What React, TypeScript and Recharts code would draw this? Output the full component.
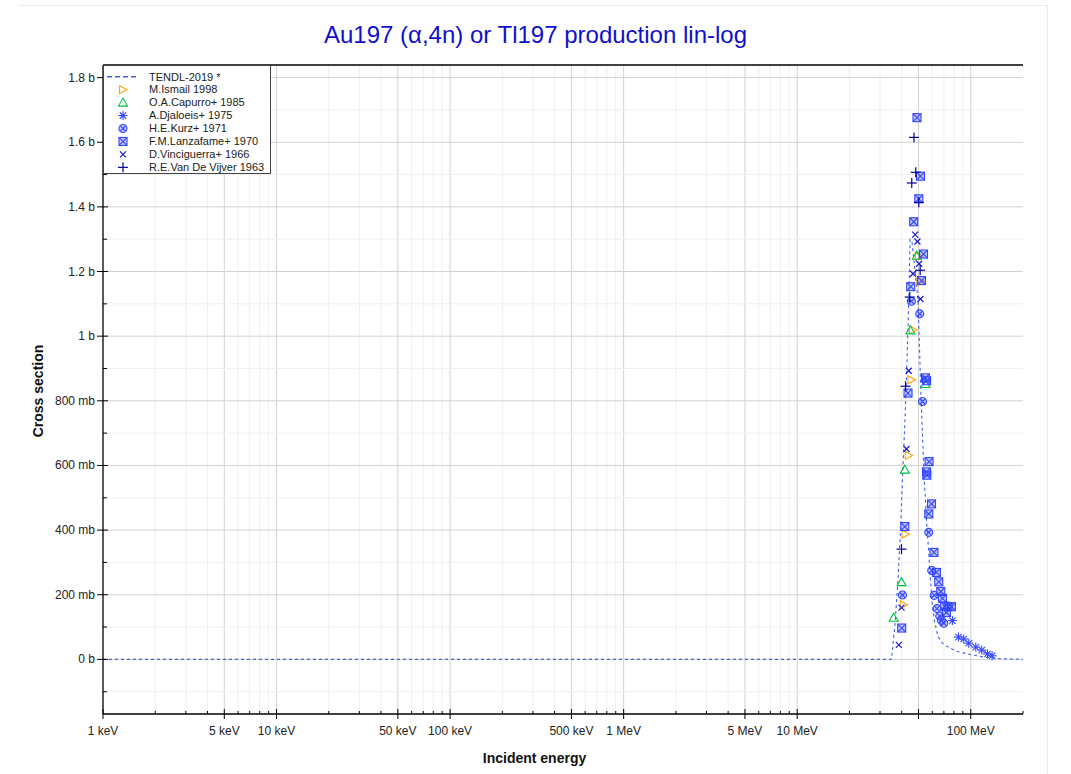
import React from 'react';
import { ComposedChart, Line, Scatter, XAxis, YAxis, ReferenceLine } from 'recharts';

// ---------- data (energy in MeV, cross section in barns) ----------
const TENDL_E = [0.001, 34.9, 36.5, 38.1, 39.4, 40.4, 41.7, 43.0, 44.1, 44.7, 45.9, 49.7, 51.5, 53.8, 55.6, 57.3, 58.5, 60.0, 62.0, 64.8, 70.0, 76.0, 83.0, 99.0, 123.0, 150.0, 200.0];
const TENDL_S = [0, 0, 0.10, 0.246, 0.40, 0.556, 0.732, 0.94, 1.144, 1.299, 1.289, 1.113, 0.834, 0.57, 0.43, 0.33, 0.25, 0.17, 0.115, 0.07, 0.045, 0.035, 0.025, 0.015, 0.006, 0.002, 0];

const ISMAIL_E = [50.2, 51.3, 46.5, 45.5, 43.9, 42.1, 41.1];
const ISMAIL_S = [1.247, 1.170, 1.020, 0.865, 0.631, 0.388, 0.169];

const CAPURRO_E = [48.9, 44.9, 54.8, 41.7, 39.9, 36.0];
const CAPURRO_S = [1.249, 1.018, 0.852, 0.587, 0.239, 0.129];

const DJALOEIS_E = [78.4, 84.9, 91.1, 97.4, 106.9, 115.7, 124.8, 132.7];
const DJALOEIS_S = [0.120, 0.069, 0.063, 0.050, 0.038, 0.029, 0.017, 0.011];

const KURZ_E = [45.5, 50.8, 52.7, 57.3, 59.6, 40.4, 61.6, 63.9, 66.3, 67.8, 69.9];
const KURZ_S = [1.108, 1.069, 0.798, 0.393, 0.275, 0.199, 0.198, 0.157, 0.134, 0.121, 0.112];

const LANZAFAME_E = [49.0, 51.3, 50.2, 46.9, 53.4, 52.0, 45.1, 54.8, 55.6, 43.5, 57.5, 55.6, 55.8, 59.4, 57.3, 41.7, 61.4, 63.4, 65.4, 67.2, 68.7, 70.8, 74.0, 77.4, 72.4, 40.0];
const LANZAFAME_S = [1.676, 1.495, 1.425, 1.354, 1.254, 1.172, 1.153, 0.871, 0.862, 0.824, 0.612, 0.580, 0.570, 0.481, 0.450, 0.411, 0.331, 0.269, 0.240, 0.210, 0.189, 0.165, 0.163, 0.163, 0.145, 0.097];

const VINCI_E = [47.8, 49.3, 50.4, 46.5, 51.3, 43.9, 42.6, 39.9, 38.5];
const VINCI_S = [1.314, 1.293, 1.224, 1.193, 1.115, 0.893, 0.651, 0.160, 0.045];

const VDV_E = [47.1, 48.2, 45.7, 50.2, 51.1, 44.5, 42.1, 39.9];
const VDV_S = [1.615, 1.507, 1.474, 1.414, 1.204, 1.121, 0.845, 0.341];

// ---------- axes ----------
const X_MIN = 0.001;
const X_MAX = 200;
const X_MAJOR = [0.001, 0.005, 0.01, 0.05, 0.1, 0.5, 1, 5, 10, 50, 100];
const X_LABELS = ['1 keV', '5 keV', '10 keV', '50 keV', '100 keV', '500 keV', '1 MeV', '5 MeV', '10 MeV', '', '100 MeV'];
const X_DECADES = [0.001, 0.01, 0.1, 1, 10, 100];
const X_MINOR_MULT = [2, 3, 4, 6, 7, 8, 9];

const Y_MIN = -0.169;
const Y_MAX = 1.839;
const Y_MAJOR = [0, 0.2, 0.4, 0.6, 0.8, 1.0, 1.2, 1.4, 1.6, 1.8];
const Y_LABELS = ['0 b', '200 mb', '400 mb', '600 mb', '800 mb', '1 b', '1.2 b', '1.4 b', '1.6 b', '1.8 b'];
const Y_MINOR = [-0.1, 0.1, 0.3, 0.5, 0.7, 0.9, 1.1, 1.3, 1.5, 1.7];

const LEGEND_NAMES = ['TENDL-2019 *', 'M.Ismail 1998', 'O.A.Capurro+ 1985', 'A.Djaloeis+ 1975', 'H.E.Kurz+ 1971', 'F.M.Lanzafame+ 1970', 'D.Vinciguerra+ 1966', 'R.E.Van De Vijver 1963'];

// ---------- helpers ----------
const zip = (e: number[], s: number[]) => e.map((v, i) => ({ e: v, s: s[i] }));
const X_MINOR: number[] = [];
X_DECADES.forEach((d) => X_MINOR_MULT.forEach((m) => { const v = +(d * m).toPrecision(6); if (v <= X_MAX) X_MINOR.push(v); }));
const ALL_X = [...X_MAJOR, ...X_MINOR].sort((a, b) => a - b);
const ALL_Y = [...Y_MAJOR, ...Y_MINOR].sort((a, b) => a - b);
const near = (a: number, b: number) => Math.abs(a - b) <= Math.abs(b) * 1e-6 + 1e-9;
const xMajorIdx = (v: number) => X_MAJOR.findIndex((m) => near(v, m));
const yMajorIdx = (v: number) => Y_MAJOR.findIndex((m) => near(v, m));

const FONT = '"Liberation Sans", Arial, Helvetica, sans-serif';

const C_TENDL = '#3f62e6';
const C_ISMAIL = '#ffa500';
const C_CAPURRO = '#00c040';
const C_BLUE = '#3344ff';
const C_VINCI = '#1a1acc';
const C_VDV = '#000099';

type Kind = 'triR' | 'triU' | 'ast' | 'circX' | 'sqX' | 'x' | 'plus';

function Marker({ kind, cx, cy }: { kind: Kind; cx: number; cy: number }) {
  switch (kind) {
    case 'triR':
      return <polygon points={`${cx - 3.5},${cy - 4} ${cx + 4},${cy} ${cx - 3.5},${cy + 4}`} fill="none" stroke={C_ISMAIL} strokeWidth={1.1} />;
    case 'triU':
      return <polygon points={`${cx},${cy - 4.5} ${cx + 4.5},${cy + 3.5} ${cx - 4.5},${cy + 3.5}`} fill="none" stroke={C_CAPURRO} strokeWidth={1.1} />;
    case 'ast': {
      const r = 4.5, d = 3.2;
      return (
        <g stroke={C_BLUE} strokeWidth={1.1}>
          <line x1={cx - r} y1={cy} x2={cx + r} y2={cy} />
          <line x1={cx} y1={cy - r} x2={cx} y2={cy + r} />
          <line x1={cx - d} y1={cy - d} x2={cx + d} y2={cy + d} />
          <line x1={cx - d} y1={cy + d} x2={cx + d} y2={cy - d} />
        </g>
      );
    }
    case 'circX': {
      const r = 4, d = 2.8;
      return (
        <g stroke={C_BLUE} strokeWidth={1.1}>
          <circle cx={cx} cy={cy} r={r} fill={C_BLUE} fillOpacity={0.3} />
          <line x1={cx - d} y1={cy - d} x2={cx + d} y2={cy + d} />
          <line x1={cx - d} y1={cy + d} x2={cx + d} y2={cy - d} />
        </g>
      );
    }
    case 'sqX': {
      const r = 4;
      return (
        <g stroke={C_BLUE} strokeWidth={1.1}>
          <rect x={cx - r} y={cy - r} width={2 * r} height={2 * r} fill={C_BLUE} fillOpacity={0.3} />
          <line x1={cx - r} y1={cy - r} x2={cx + r} y2={cy + r} />
          <line x1={cx - r} y1={cy + r} x2={cx + r} y2={cy - r} />
        </g>
      );
    }
    case 'x': {
      const d = 3;
      return (
        <g stroke={C_VINCI} strokeWidth={1.2}>
          <line x1={cx - d} y1={cy - d} x2={cx + d} y2={cy + d} />
          <line x1={cx - d} y1={cy + d} x2={cx + d} y2={cy - d} />
        </g>
      );
    }
    case 'plus':
    default: {
      const r = 5;
      return (
        <g stroke={C_VDV} strokeWidth={1.2}>
          <line x1={cx - r} y1={cy} x2={cx + r} y2={cy} />
          <line x1={cx} y1={cy - r} x2={cx} y2={cy + r} />
        </g>
      );
    }
  }
}

const shape = (kind: Kind) => (p: any) => {
  if (p == null || p.cx == null || p.cy == null) return <g />;
  return <Marker kind={kind} cx={p.cx} cy={p.cy} />;
};

const XTick = (p: any) => {
  const { x, y, payload } = p;
  const idx = xMajorIdx(payload.value);
  if (idx >= 0) {
    return (
      <g>
        <line x1={x} y1={y - 5} x2={x} y2={y + 5} stroke="#000" strokeWidth={1} />
        {X_LABELS[idx] ? (
          <text x={x} y={y + 21} textAnchor="middle" fontSize={12} fontFamily={FONT} fill="#222">{X_LABELS[idx]}</text>
        ) : null}
      </g>
    );
  }
  return <line x1={x} y1={y} x2={x} y2={y - 3} stroke="#000" strokeWidth={1} />;
};

const YTick = (p: any) => {
  const { x, y, payload } = p;
  const idx = yMajorIdx(payload.value);
  if (idx >= 0) {
    return (
      <g>
        <line x1={x - 6} y1={y} x2={x + 5} y2={y} stroke="#000" strokeWidth={1} />
        <text x={x - 8} y={y + 4} textAnchor="end" fontSize={12} fontFamily={FONT} fill="#222">{Y_LABELS[idx]}</text>
      </g>
    );
  }
  return <line x1={x} y1={y} x2={x + 4} y2={y} stroke="#000" strokeWidth={1} />;
};

const YTickRight = (p: any) => {
  const { x, y, payload } = p;
  const idx = yMajorIdx(payload.value);
  return <line x1={x} y1={y} x2={x - (idx >= 0 ? 5 : 3)} y2={y} stroke="#000" strokeWidth={1} />;
};

const LEGEND_KINDS: (Kind | 'line')[] = ['line', 'triR', 'triU', 'ast', 'circX', 'sqX', 'x', 'plus'];

export default function App() {
  return (
    <div style={{ position: 'absolute', left: 0, top: 0, width: 1071, height: 774, background: '#fff', fontFamily: FONT, overflow: 'hidden' }}>
      <div style={{ position: 'absolute', left: 18, top: 5, width: 1029, height: 800, borderTop: '1px solid #ececec', borderRight: '1px solid #ececec' }} />
      <div style={{ position: 'absolute', left: 0, top: 20, width: 1071, textAlign: 'center', fontSize: 24, lineHeight: '30px', color: '#1010cc', fontFamily: FONT }}>
        Au197 (α,4n) or Tl197 production lin-log
      </div>
      <div style={{ position: 'absolute', left: 0, top: 749, width: 1071, textAlign: 'center', fontSize: 14, lineHeight: '18px', fontWeight: 'bold', color: '#111', fontFamily: FONT }}>
        <span style={{ position: 'relative', left: -1 }}>Incident energy</span>
      </div>
      <div style={{ position: 'absolute', left: 38, top: 391, width: 0, height: 0 }}>
        <div style={{ position: 'absolute', transform: 'translate(-50%, -50%) rotate(-90deg)', whiteSpace: 'nowrap', fontSize: 14, lineHeight: '18px', fontWeight: 'bold', color: '#111', fontFamily: FONT }}>
          Cross section
        </div>
      </div>

      <div style={{ position: 'absolute', left: 0, top: 0 }}>
        <ComposedChart width={1071} height={774} margin={{ top: 65, right: 48, bottom: 30, left: 20 }}>
          <XAxis
            dataKey="e"
            type="number"
            scale="log"
            domain={[X_MIN, X_MAX]}
            allowDataOverflow
            ticks={ALL_X}
            interval={0}
            tickSize={0}
            tickMargin={0}
            tickLine={false}
            axisLine={{ stroke: '#000', strokeWidth: 1.3 }}
            tick={XTick}
            height={30}
          />
          <YAxis
            dataKey="s"
            type="number"
            domain={[Y_MIN, Y_MAX]}
            allowDataOverflow
            ticks={ALL_Y}
            interval={0}
            tickSize={0}
            tickMargin={0}
            tickLine={false}
            axisLine={{ stroke: '#000', strokeWidth: 1.3 }}
            tick={YTick}
            width={83}
          />
          <YAxis
            yAxisId="r"
            orientation="right"
            dataKey="s"
            type="number"
            domain={[Y_MIN, Y_MAX]}
            allowDataOverflow
            ticks={ALL_Y}
            interval={0}
            tickSize={0}
            tickMargin={0}
            tickLine={false}
            axisLine={{ stroke: '#000', strokeWidth: 1.3 }}
            tick={YTickRight}
            width={0}
          />
          {ALL_X.filter((v) => v > X_MIN && v < X_MAX).map((v) => (
            <ReferenceLine key={'gx' + v} x={v} stroke={xMajorIdx(v) >= 0 ? '#d2d2d2' : '#efefef'} strokeWidth={1} />
          ))}
          {ALL_Y.map((v) => (
            <ReferenceLine key={'gy' + v} y={v} stroke={yMajorIdx(v) >= 0 ? '#d2d2d2' : '#efefef'} strokeWidth={1} />
          ))}
          <ReferenceLine y={Y_MAX} stroke="#000" strokeWidth={1.3} />
          <Line data={zip(TENDL_E, TENDL_S)} dataKey="s" type="linear" stroke={C_TENDL} strokeWidth={1.1} strokeDasharray="3 3" dot={false} activeDot={false} isAnimationActive={false} />
          <Scatter data={zip(ISMAIL_E, ISMAIL_S)} dataKey="s" shape={shape('triR')} isAnimationActive={false} />
          <Scatter data={zip(CAPURRO_E, CAPURRO_S)} dataKey="s" shape={shape('triU')} isAnimationActive={false} />
          <Scatter data={zip(DJALOEIS_E, DJALOEIS_S)} dataKey="s" shape={shape('ast')} isAnimationActive={false} />
          <Scatter data={zip(KURZ_E, KURZ_S)} dataKey="s" shape={shape('circX')} isAnimationActive={false} />
          <Scatter data={zip(LANZAFAME_E, LANZAFAME_S)} dataKey="s" shape={shape('sqX')} isAnimationActive={false} />
          <Scatter data={zip(VINCI_E, VINCI_S)} dataKey="s" shape={shape('x')} isAnimationActive={false} />
          <Scatter data={zip(VDV_E, VDV_S)} dataKey="s" shape={shape('plus')} isAnimationActive={false} />
        </ComposedChart>
      </div>

      <svg style={{ position: 'absolute', left: 103, top: 65 }} width={168} height={109}>
        <rect x={0.5} y={0.5} width={167} height={108} fill="#fff" stroke="#444" strokeWidth={1} />
        {LEGEND_NAMES.map((name, i) => {
          const cy = 11.7 + i * 12.95;
          const kind = LEGEND_KINDS[i];
          return (
            <g key={name}>
              {kind === 'line' ? (
                <line x1={4} y1={cy} x2={34} y2={cy} stroke={C_TENDL} strokeWidth={1.4} strokeDasharray="5 3" />
              ) : (
                <Marker kind={kind} cx={20} cy={cy} />
              )}
              <text x={46} y={cy + 3.8} fontSize={11} fontFamily={FONT} fill="#222">{name}</text>
            </g>
          );
        })}
      </svg>
    </div>
  );
}
